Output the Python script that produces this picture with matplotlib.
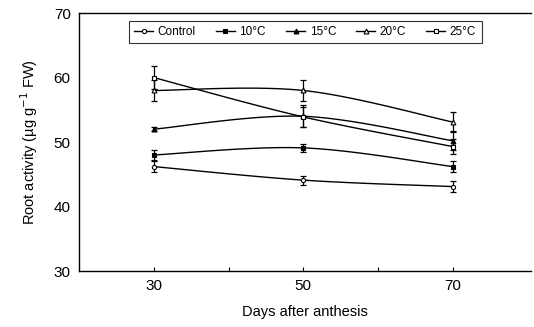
import numpy as np
import matplotlib
matplotlib.use("Agg")
import matplotlib.pyplot as plt

plt.rcParams['font.family'] = ['Liberation Sans', 'DejaVu Sans']

days = [30, 50, 70]
series_names = ["Control", "10\u00b0C", "15\u00b0C", "20\u00b0C", "25\u00b0C"]
control = [46.2, 44.1, 43.1]
t10 = [48.0, 49.1, 46.2]
t15 = [52.0, 54.0, 50.2]
t20 = [58.0, 58.0, 53.1]
t25 = [60.0, 53.9, 49.3]
err_control = [0.8, 0.7, 0.8]
err_t10 = [0.8, 0.6, 0.8]
err_t15 = [0.3, 1.7, 1.5]
err_t20 = [1.6, 1.7, 1.6]
err_t25 = [1.8, 1.5, 1.2]
xticks = [30, 40, 50, 60, 70]
xticklabels = ["30", "", "50", "", "70"]
yticks = [30, 40, 50, 60, 70]

values = [control, t10, t15, t20, t25]
errors = [err_control, err_t10, err_t15, err_t20, err_t25]
markers = ['o', 's', '^', '^', 's']
fills = ['white', 'black', 'black', 'white', 'white']
msizes = [3, 3.5, 3.5, 3.5, 3.5]


def smooth(x, y, n=40):
    """Excel-style smoothed line (cubic Bezier through the points)."""
    x = np.asarray(x, float)
    y = np.asarray(y, float)
    px = np.concatenate([[x[0]], x, [x[-1]]])
    py = np.concatenate([[y[0]], y, [y[-1]]])
    outx, outy = [], []
    t = np.linspace(0, 1, n)
    for i in range(1, len(px) - 2):
        p0 = np.array([px[i], py[i]])
        p3 = np.array([px[i + 1], py[i + 1]])
        c1 = p0 + (np.array([px[i + 1], py[i + 1]]) - np.array([px[i - 1], py[i - 1]])) / 6
        c2 = p3 - (np.array([px[i + 2], py[i + 2]]) - np.array([px[i], py[i]])) / 6
        b = ((1 - t) ** 3)[:, None] * p0 + (3 * (1 - t) ** 2 * t)[:, None] * c1 \
            + (3 * (1 - t) * t ** 2)[:, None] * c2 + (t ** 3)[:, None] * p3
        outx.extend(b[:, 0])
        outy.extend(b[:, 1])
    return outx, outy


fig = plt.figure(figsize=(5.34, 3.27), dpi=100)
ax = fig.add_axes([0.148, 0.171, 0.847, 0.789])

for name, v, e, m, fc, ms in zip(series_names, values, errors, markers, fills, msizes):
    sx, sy = smooth(days, v)
    ax.plot(sx, sy, color='black', lw=1.0)
    ax.errorbar(days, v, yerr=e, fmt='none', ecolor='black', elinewidth=0.9,
                capsize=2, capthick=0.9)
    ax.plot(days, v, linestyle='none', marker=m, markersize=ms,
            markerfacecolor=fc, markeredgecolor='black', markeredgewidth=0.8)
    ax.plot([], [], color='black', lw=1.0, marker=m, markersize=ms,
            markerfacecolor=fc, markeredgecolor='black', markeredgewidth=0.8,
            label=name)

ax.set_xlim(20, 80.5)
ax.set_ylim(30, 70)
ax.set_xticks(xticks)
ax.set_xticklabels(xticklabels)
ax.set_yticks(yticks)
ax.tick_params(axis='both', direction='in', length=3, width=0.8, labelsize=11, pad=6)
ax.tick_params(axis='y', length=0)
ax.spines['right'].set_visible(False)
for s in ['left', 'top', 'bottom']:
    ax.spines[s].set_linewidth(1.0)

ax.set_xlabel("Days after anthesis", fontsize=10.5, labelpad=8)
ax.set_ylabel("Root activity (\u00b5g g$^{-1}$ FW)", fontsize=10.5, labelpad=10)

leg = ax.legend(loc='upper left', bbox_to_anchor=(0.11, 0.97), ncol=5, fontsize=8.5,
                frameon=True, fancybox=False, edgecolor='black', handlelength=1.6,
                handletextpad=0.4, columnspacing=1.7, borderpad=0.45,
                borderaxespad=0)
leg.get_frame().set_linewidth(0.8)

fig.savefig("out.png", dpi=100)
